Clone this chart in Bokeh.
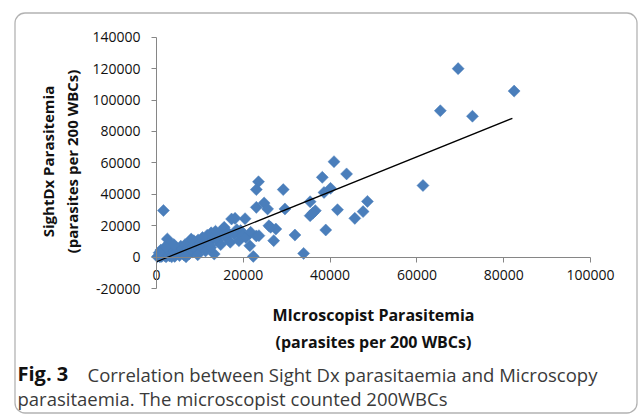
from bokeh.plotting import figure
from bokeh.models import Label, BoxAnnotation, FixedTicker, Range1d
from bokeh.embed import file_html
from bokeh.resources import INLINE
import numpy as np

# Microscopist parasitemia (x) vs SightDx parasitemia (y), parasites per 200 WBCs
micro_x = [200, 500, 800, 1000, 1200, 1500, 1800, 2000, 2200, 2500, 2800, 3000, 3200, 3500,
           3800, 4000, 4200, 4500, 4800, 5000, 5300, 5600, 5800, 6000, 6300, 6600, 6900, 7200,
           7500, 7800, 8000, 8300, 8600, 9000, 9300, 9600, 10000, 10300, 10600, 11000, 11300,
           11700, 12000, 12300, 12600, 13000, 13300, 13600, 14000, 14400, 14800, 15200, 15600,
           16000, 16500, 17000, 17300, 17900, 18500, 19000, 19400, 19800, 20400, 20600, 21500,
           21700, 22300, 23000, 2500, 1600, 3000, 1000, 2000, 600, 3500, 6800, 9500, 12500,
           8000, 4000, 18100, 23500, 23000, 29200, 24800, 23000, 25600, 29600, 25900, 27500,
           26300, 31900, 27000, 33900, 23600, 40900, 43800, 38200, 40100, 38600, 35400, 36600,
           35400, 36000, 41700, 48600, 47600, 45700, 39000, 61400, 65400, 69500, 72800, 82400]
sightdx_y = [300, 800, 200, 1500, 500, 2500, 1000, 3500, 200, 1800, 4500, 800, 2500, 5500,
             1500, 3500, 500, 6200, 2500, 4500, 1000, 7000, 3000, 5000, 1500, 8000, 4000, 6000,
             2000, 9000, 5500, 3500, 10500, 7000, 4500, 11000, 8500, 6000, 12500, 9500, 4000,
             14000, 10500, 7500, 15500, 12000, 2000, 16500, 10500, 13500, 8000, 17500, 19000,
             12500, 15500, 9500, 24300, 14800, 17500, 10500, 16900, 13700, 24500, 12600, 7300,
             15800, 500, 13500, 11600, 29700, 9000, 4500, 6500, 2800, 200, 200, 1500, 6200,
             11500, 8000, 24700, 48000, 43000, 43000, 34500, 31700, 30700, 30700, 20000, 17900,
             19000, 14100, 10500, 2400, 13700, 60800, 53000, 50800, 43800, 41200, 35300, 29600,
             26400, 28000, 30200, 35500, 29000, 24700, 17300, 45600, 93200, 120000, 89700, 105700]

# Linear trend line end points
trend_x = [0, 82000]
trend_y = [-2900, 88400]

x_ticks = [0, 20000, 40000, 60000, 80000, 100000]
y_ticks = [-20000, 0, 20000, 40000, 60000, 80000, 100000, 120000, 140000]
x_tick_labels = ["0", "20000", "40000", "60000", "80000", "100000"]
y_tick_labels = ["-20000", "0", "20000", "40000", "60000", "80000", "100000", "120000", "140000"]

y_title = ["SightDx Parasitemia", "(parasites per 200 WBCs)"]
x_title = ["MIcroscopist Parasitemia", "(parasites per 200 WBCs)"]
caption_bold = "Fig. 3"
caption_1 = "Correlation between Sight Dx parasitaemia and Microscopy"
caption_2 = "parasitaemia. The microscopist counted 200WBCs"

# ---- layout: the plot frame spans the whole canvas; axes sit at fixed locations ----
W, H = 638, 416
AX_L, AX_R = 156.0, 590.0      # pixel x of x=0 and x=100000
AX_T, AX_B = 36.7, 288.1       # pixel y of y=140000 and y=-20000
XMIN, XMAX = 0, 100000
YMIN, YMAX = -20000, 140000
sx = (XMAX - XMIN) / (AX_R - AX_L)
sy = (YMAX - YMIN) / (AX_B - AX_T)


def px_x(px):
    return XMIN + (px - AX_L) * sx


def px_y(py):
    return YMAX - (py - AX_T) * sy


p = figure(width=W, height=H, output_backend="svg", toolbar_location=None,
           x_range=Range1d(px_x(0), px_x(W)), y_range=Range1d(px_y(H), px_y(0)),
           min_border=0, min_border_left=0, min_border_right=0,
           min_border_top=0, min_border_bottom=0)
p.background_fill_color = "white"
p.border_fill_color = "white"
p.outline_line_color = None
p.grid.visible = False

TICK_FONT = "Open Sans"
for ax in (p.xaxis[0], p.yaxis[0]):
    ax.axis_line_color = "#868686"
    ax.major_tick_line_color = "#868686"
    ax.minor_tick_line_color = None
    ax.major_tick_in = 0
    ax.major_tick_out = 5
    ax.major_label_text_font = TICK_FONT
    ax.major_label_text_font_size = "14px"
    ax.major_label_text_color = "#111111"

p.xaxis[0].ticker = FixedTicker(ticks=x_ticks)
p.yaxis[0].ticker = FixedTicker(ticks=y_ticks)
p.xaxis[0].major_label_overrides = dict(zip(x_ticks, x_tick_labels))
p.yaxis[0].major_label_overrides = dict(zip(y_ticks, y_tick_labels))
p.xaxis[0].bounds = (XMIN, XMAX)
p.yaxis[0].bounds = (YMIN, YMAX)
p.xaxis[0].fixed_location = 0
p.yaxis[0].fixed_location = 0
p.xaxis[0].major_label_standoff = 8
p.yaxis[0].major_label_standoff = 11

p.scatter(micro_x, sightdx_y, marker="square", angle=np.pi / 4, size=8.5,
          fill_color="#4a7ebb", line_color="#4a7ebb", line_width=0.5)
p.line(trend_x, trend_y, line_color="black", line_width=1.3)

# Axis titles
for i, t in enumerate(y_title):
    p.add_layout(Label(x=px_x(47 + 24 * i), y=px_y(161), text=t,
                       angle=np.pi / 2, text_align="center", text_baseline="middle",
                       text_font="Open Sans", text_font_style="bold", text_font_size="15px",
                       text_color="#111111"))
for i, t in enumerate(x_title):
    p.add_layout(Label(x=px_x(373), y=px_y(314 + 27 * i), text=t,
                       text_align="center", text_baseline="middle",
                       text_font="Open Sans", text_font_style="bold", text_font_size="16px",
                       text_color="#111111"))

# Caption
p.add_layout(Label(x=px_x(17), y=px_y(373), text=caption_bold,
                   text_align="left", text_baseline="middle", text_font="Open Sans",
                   text_font_style="bold", text_font_size="20px", text_color="#111111"))
p.add_layout(Label(x=px_x(87), y=px_y(374), text=caption_1,
                   text_align="left", text_baseline="middle", text_font="Open Sans",
                   text_font_size="18.5px", text_color="#3a3a3a"))
p.add_layout(Label(x=px_x(17), y=px_y(398), text=caption_2,
                   text_align="left", text_baseline="middle", text_font="Open Sans",
                   text_font_size="18.5px", text_color="#3a3a3a"))

# Rounded frame around figure + caption
p.add_layout(BoxAnnotation(left=px_x(14.5), right=px_x(636.5), top=px_y(12.5), bottom=px_y(412.5),
                           fill_alpha=0, line_color="black", line_width=1.3, border_radius=10,
                           editable=False))

open("out.html", "w").write(file_html(p, INLINE))
